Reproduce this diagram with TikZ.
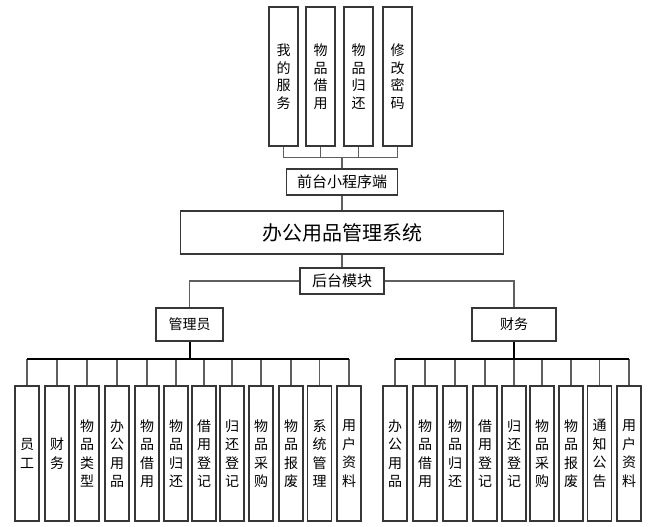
\documentclass[tikz,border=0pt]{standalone}
\usepackage{fontspec}
\usetikzlibrary{positioning}
\newfontfamily\cjk{Noto Sans CJK SC}
\definecolor{boxColor}{RGB}{55,55,55}
\definecolor{lineColor}{RGB}{95,95,95}
\tikzstyle{chart} = [x = 1pt, y = -1pt]
\tikzstyle{boxStyle} = [draw=boxColor, line width=1.3pt, fill=white, inner sep=0pt, align=center]
\tikzstyle{topStyle} = [boxStyle, minimum width=29pt, minimum height=139pt, font=\cjk\fontsize{14}{17.5}\selectfont]
\tikzstyle{leafStyle} = [boxStyle, minimum width=24pt, minimum height=135pt, font=\cjk\fontsize{14}{18.5}\selectfont]
\tikzstyle{linkLine} = [color=lineColor, line width=1.1pt]
\tikzstyle{busLine} = [color=black, line width=2pt]
\newcommand{\topBox}[3]{\node [topStyle] (#1) at (#2, 76.5) {#3};}
\newcommand{\leafBox}[3]{\node [leafStyle] (#1) at (#2, 453.5) {#3};}

\begin{document}
\begin{tikzpicture}[chart]
    \useasboundingbox (0,0) rectangle (653,527);
    % front end
    \topBox{mine}{283.5}{我\\的\\服\\务}
    \topBox{borrow}{320.5}{物\\品\\借\\用}
    \topBox{giveBack}{358.5}{物\\品\\归\\还}
    \topBox{password}{397.5}{修\\改\\密\\码}
    \node [boxStyle, minimum width=111pt, minimum height=26pt, font=\cjk\fontsize{15}{18}\selectfont] (front) at (342, 182) {前台小程序端};
    \node [boxStyle, minimum width=323pt, minimum height=43pt, font=\cjk\fontsize{20}{24}\selectfont] (system) at (342, 232.5) {办公用品管理系统};
    \node [boxStyle, minimum width=84pt, minimum height=26pt, font=\cjk\fontsize{15}{18}\selectfont] (back) at (342, 281) {后台模块};
    \node [boxStyle, minimum width=67pt, minimum height=33pt, font=\cjk\fontsize{14}{17}\selectfont] (admin) at (189.5, 324.5) {管理员};
    \node [boxStyle, minimum width=84pt, minimum height=33pt, font=\cjk\fontsize{14}{17}\selectfont] (finance) at (514, 324.5) {财务};
    \foreach \name in {mine, borrow, giveBack, password} {
      \draw [linkLine] (\name.south) -- ++(0,11) -| (front.north);
    }
    \draw [linkLine] (front.south) -- (system.north);
    \draw [linkLine] (system.south) -- (back.north);
    \draw [linkLine] (back.west) -| (admin.north);
    \draw [linkLine] (back.east) -| (finance.north);
    % admin leaves
    \leafBox{a1}{27}{员\\工}
    \leafBox{a2}{57}{财\\务}
    \leafBox{a3}{87}{物\\品\\类\\型}
    \leafBox{a4}{117}{办\\公\\用\\品}
    \leafBox{a5}{147}{物\\品\\借\\用}
    \leafBox{a6}{176}{物\\品\\归\\还}
    \leafBox{a7}{204}{借\\用\\登\\记}
    \leafBox{a8}{232}{归\\还\\登\\记}
    \leafBox{a9}{261}{物\\品\\采\\购}
    \leafBox{a10}{291}{物\\品\\报\\废}
    \leafBox{a11}{319.5}{系\\统\\管\\理}
    \leafBox{a12}{349}{用\\户\\资\\料}
    \coordinate (adminBus) at (189.5, 359);
    \foreach \i in {1,...,12} {
      \draw [linkLine] (a\i.north) -- (a\i.north |- adminBus);
    }
    \draw [busLine] (admin.south) -- (adminBus);
    \draw [busLine] (a1.north |- adminBus) -- (a12.north |- adminBus);
    % finance leaves
    \leafBox{f1}{395}{办\\公\\用\\品}
    \leafBox{f2}{425}{物\\品\\借\\用}
    \leafBox{f3}{455}{物\\品\\归\\还}
    \leafBox{f4}{485}{借\\用\\登\\记}
    \leafBox{f5}{514}{归\\还\\登\\记}
    \leafBox{f6}{542}{物\\品\\采\\购}
    \leafBox{f7}{571}{物\\品\\报\\废}
    \leafBox{f8}{599.5}{通\\知\\公\\告}
    \leafBox{f9}{629}{用\\户\\资\\料}
    \coordinate (financeBus) at (514, 359);
    \foreach \i in {1,...,9} {
      \draw [linkLine] (f\i.north) -- (f\i.north |- financeBus);
    }
    \draw [busLine] (finance.south) -- (financeBus);
    \draw [busLine] (f1.north |- financeBus) -- (f9.north |- financeBus);
\end{tikzpicture}
\end{document}
